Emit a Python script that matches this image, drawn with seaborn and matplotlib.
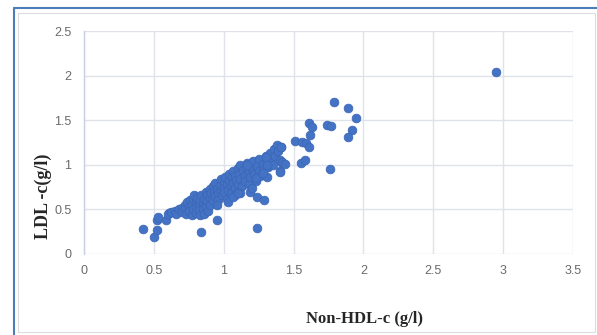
import numpy as np
import pandas as pd
import matplotlib
matplotlib.use("Agg")
import matplotlib.pyplot as plt
import seaborn as sns
from matplotlib.lines import Line2D
from matplotlib.patches import Rectangle

# data (Non-HDL-c vs LDL-c, g/l)
non_hdl = [
    0.42, 0.50, 0.52, 0.52, 0.53, 0.59, 0.61, 0.65,
    0.60, 0.62, 0.65, 0.66, 0.68, 0.70, 0.70, 0.72, 0.72, 0.73, 0.74, 0.75,
    0.75, 0.76, 0.77, 0.77, 0.78, 0.78, 0.79, 0.80, 0.80, 0.80, 0.81, 0.82,
    0.82, 0.83, 0.83, 0.84, 0.85, 0.85, 0.86, 0.86, 0.87, 0.87, 0.88, 0.88,
    0.89, 0.90, 0.90, 0.90,
    0.91, 0.92, 0.92, 0.93, 0.94, 0.94, 0.95, 0.96, 0.96, 0.97, 0.98, 0.98,
    0.99, 1.00, 1.00, 1.00, 1.01, 1.02, 1.02, 1.03, 1.04, 1.04, 1.05, 1.05,
    1.06, 1.07, 1.07, 1.08, 1.08, 1.09, 1.10, 1.10, 1.10, 1.11, 1.12, 1.12,
    1.13, 1.14, 1.15, 1.15,
    1.16, 1.17, 1.18, 1.18, 1.19, 1.20, 1.21, 1.22, 1.23, 1.24, 1.25, 1.25,
    1.26, 1.28, 1.29, 1.30, 1.31, 1.32, 1.33, 1.34, 1.35, 1.36, 1.37, 1.38,
    1.39, 1.40, 1.41, 1.42, 1.40,
    0.84, 0.95, 0.95, 1.24, 1.03, 1.08, 1.12, 1.19, 1.07, 1.10, 1.20, 1.24,
    1.29, 1.23, 1.31, 1.28, 1.30, 1.31, 1.17, 1.40, 1.42, 1.44, 1.41,
    1.51, 1.56, 1.59, 1.61, 1.61, 1.63, 1.62, 1.55, 1.58, 1.76,
    1.74, 1.77, 1.79, 1.89, 1.95, 1.92, 1.89, 2.95,
]
ldl = [
    0.28, 0.19, 0.27, 0.38, 0.42, 0.38, 0.46, 0.47,
    0.45, 0.47, 0.48, 0.45, 0.50, 0.52, 0.47, 0.55, 0.50, 0.45, 0.58, 0.53,
    0.48, 0.60, 0.56, 0.44, 0.62, 0.50, 0.66, 0.58, 0.53, 0.46, 0.63, 0.55,
    0.49, 0.60, 0.44, 0.66, 0.57, 0.50, 0.62, 0.45, 0.70, 0.54, 0.66, 0.59,
    0.48, 0.73, 0.63, 0.55,
    0.68, 0.76, 0.60, 0.70, 0.65, 0.80, 0.73, 0.68, 0.60, 0.77, 0.71, 0.84,
    0.66, 0.80, 0.74, 0.69, 0.86, 0.78, 0.62, 0.72, 0.83, 0.90, 0.76, 0.68,
    0.86, 0.80, 0.93, 0.74, 0.88, 0.83, 0.96, 0.78, 0.70, 0.90, 0.84, 1.00,
    0.76, 0.94, 0.88, 0.82,
    0.98, 1.02, 0.92, 0.78, 0.86, 0.96, 1.04, 0.90, 0.82, 0.99, 1.06, 0.93,
    0.87, 1.01, 0.95, 1.10, 1.04, 0.97, 1.13, 1.06, 1.00, 1.18, 1.10, 1.22,
    1.15, 1.05, 1.20, 1.02, 0.93,
    0.25, 0.38, 0.55, 0.29, 0.58, 0.66, 0.68, 0.70, 0.64, 0.68, 0.74, 0.64,
    0.61, 0.85, 0.86, 0.91, 1.09, 1.00, 1.00, 0.92, 1.03, 1.01, 1.20,
    1.27, 1.26, 1.24, 1.20, 1.47, 1.42, 1.33, 1.02, 1.05, 0.95,
    1.45, 1.44, 1.70, 1.64, 1.53, 1.39, 1.31, 2.04,
]

x_ticks = [0, 0.5, 1, 1.5, 2, 2.5, 3, 3.5]
x_tick_labels = ["0", "0.5", "1", "1.5", "2", "2.5", "3", "3.5"]
y_ticks = [0, 0.5, 1, 1.5, 2, 2.5]
y_tick_labels = ["0", "0.5", "1", "1.5", "2", "2.5"]

df = pd.DataFrame({"non_hdl": non_hdl, "ldl": ldl})

sns.set_style("white")
W, H = 597, 335
fig = plt.figure(figsize=(W / 100, H / 100), dpi=100)
ax = fig.add_axes([84 / W, 1 - 254 / H, 489 / W, 223 / H])

sns.scatterplot(data=df, x="non_hdl", y="ldl", ax=ax, s=40,
                color="#4472C4", edgecolor="#3b66b5", linewidth=0.5, zorder=3)

ax.set_xlim(0, 3.5)
ax.set_ylim(0, 2.5)
ax.set_xticks(x_ticks)
ax.set_xticklabels(x_tick_labels)
ax.set_yticks(y_ticks)
ax.set_yticklabels(y_tick_labels)
ax.set_xlabel("")
ax.set_ylabel("")
ax.grid(True, color="#dfe2e8", linewidth=1.0, zorder=0)
ax.set_axisbelow(True)
for side in ["top", "right", "bottom"]:
    ax.spines[side].set_visible(False)
ax.spines["left"].set_color("#c6d0e2")
ax.spines["left"].set_linewidth(1.0)
ax.tick_params(length=0, labelcolor="#6b6b6b", labelsize=9)
ax.tick_params(axis="y", pad=9)
ax.tick_params(axis="x", pad=8)
for lab in ax.get_xticklabels() + ax.get_yticklabels():
    lab.set_family(["Liberation Sans Narrow", "Liberation Sans"])

# chart frame
fig.add_artist(Rectangle((18 / W, 1 - 332 / H), 577 / W, 319 / H,
                         transform=fig.transFigure, fill=False,
                         edgecolor="#dcdcdc", linewidth=0.8))
fig.add_artist(Line2D([13.5 / W, 13.5 / W], [0, 1 - 7.5 / H],
                      transform=fig.transFigure, color="#4a7ebb", linewidth=1.5))
fig.add_artist(Line2D([13.5 / W, 1], [1 - 7.5 / H, 1 - 7.5 / H],
                      transform=fig.transFigure, color="#4a7ebb", linewidth=1.5))

fig.text(364 / W, 1 - 319 / H, "Non-HDL-c (g/l)", ha="center", va="center",
         family="Liberation Serif", fontweight="bold", fontsize=12)
fig.text(43 / W, 1 - 196 / H, "LDL -c(g/l)", ha="center", va="center",
         rotation=90, family="Liberation Serif", fontweight="bold", fontsize=13)

fig.savefig("out.png", dpi=100)
